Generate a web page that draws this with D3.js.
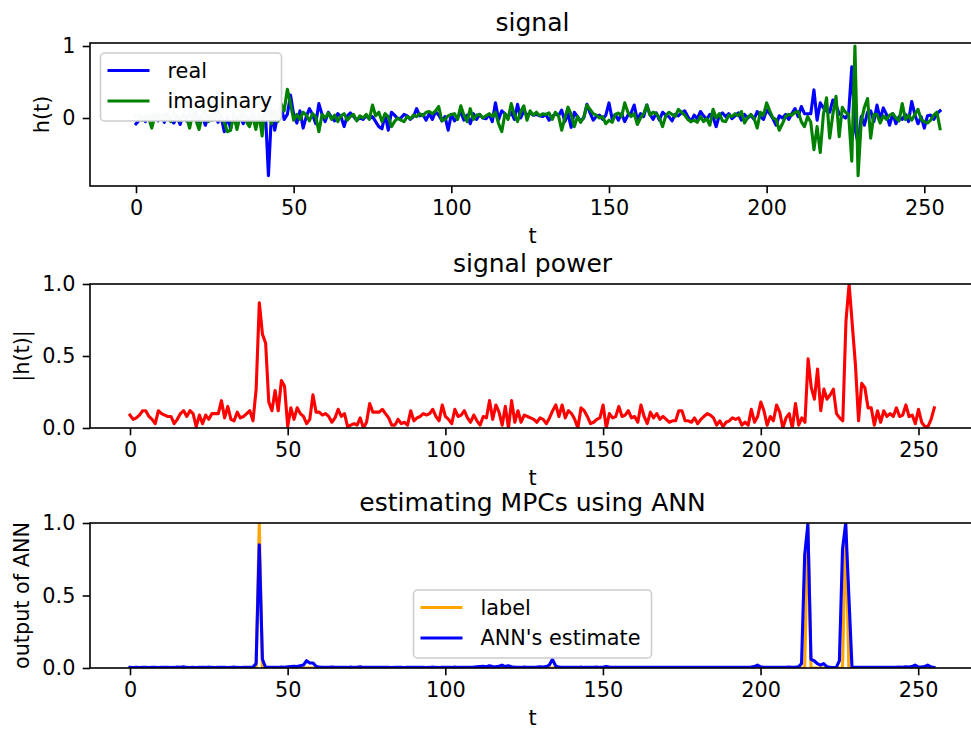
<!DOCTYPE html>
<html>
<head>
<meta charset="utf-8">
<script src="https://cdn.jsdelivr.net/npm/d3@7"></script>
<style>
  body { margin: 0; background: #fff; }
  svg { display: block; font-family: "DejaVu Sans", sans-serif; }
</style>
</head>
<body>
<svg width="971" height="729"></svg>
<script>
// t = 0..255
const t = d3.range(256)

const realPart = [
  -0.08, -0.03, 0.02, -0.05, 0.04, -0.02, 0.05, -0.04, 0.03, -0.06,
  0.06, -0.03, -0.07, 0.02, -0.09, 0.05, -0.04, 0.06, -0.02, 0.08,
  -0.05, 0.03, -0.10, 0.04, -0.03, 0.07, -0.06, 0.02, -0.19, 0.03,
  -0.15, 0.06, -0.04, 0.05, -0.08, 0.03, -0.05, 0.07, -0.03, 0.02,
  -0.05, 0.12, -0.80, 0.10, -0.17, 0.05, 0.15, -0.02, 0.05, 0.32,
  0.05, -0.07, 0.10, -0.14, 0.02, 0.13, 0.05, -0.08, 0.20, 0.05,
  -0.05, 0.08, 0.01, -0.04, 0.06, 0.02, -0.12, 0.03, 0.07, 0.02,
  -0.03, 0.00, -0.02, 0.03, -0.01, 0.02, -0.05, -0.12, -0.15, 0.05,
  -0.17, 0.08, 0.04, -0.01, 0.00, 0.05, 0.03, -0.02, 0.02, 0.13,
  0.03, 0.05, -0.03, 0.06, -0.02, 0.09, 0.04, -0.04, 0.02, -0.17,
  0.05, -0.04, 0.01, 0.08, -0.03, 0.04, -0.08, 0.06, -0.02, 0.05,
  0.00, -0.01, 0.05, -0.05, 0.21, -0.02, 0.10, 0.06, 0.01, 0.08,
  -0.02, 0.19, 0.00, 0.10, 0.04, 0.07, 0.04, 0.05, 0.03, 0.02,
  0.05, -0.03, 0.02, 0.06, 0.03, 0.11, -0.05, 0.06, -0.13, 0.08,
  0.02, -0.04, 0.00, 0.19, 0.07, -0.03, 0.02, 0.04, -0.02, 0.04,
  0.21, -0.01, 0.05, -0.03, 0.06, -0.05, 0.04, 0.07, 0.18, -0.03,
  0.06, 0.02, 0.18, 0.05, -0.02, 0.07, -0.03, 0.08, 0.04, 0.02,
  -0.04, 0.05, 0.03, 0.07, 0.10, 0.02, -0.05, 0.04, -0.01, 0.09,
  0.03, -0.02, 0.05, 0.01, -0.12, 0.04, 0.07, 0.02, 0.06, -0.01,
  0.03, 0.07, -0.03, 0.05, 0.00, 0.04, -0.02, 0.09, 0.02, -0.02,
  0.11, 0.06, -0.01, -0.10, 0.03, 0.00, 0.05, -0.02, 0.06, 0.13,
  0.02, 0.16, 0.06, 0.06, 0.06, 0.39, -0.03, 0.21, 0.14, 0.10,
  0.08, 0.25, 0.18, 0.06, 0.03, 0.00, 0.06, 0.71, -0.15, -0.35,
  0.02, -0.10, 0.08, 0.10, -0.05, 0.18, -0.02, 0.14, 0.05, -0.10,
  0.06, -0.08, 0.02, -0.02, 0.05, -0.05, 0.23, 0.05, -0.08, 0.02,
  -0.14, 0.03, 0.04, -0.02, 0.06, 0.10
]

const imagPart = [
  0.02, 0.05, -0.03, 0.04, 0.01, -0.14, 0.03, 0.06, -0.02, 0.05,
  0.02, -0.05, 0.07, 0.03, -0.04, 0.05, 0.02, -0.14, 0.06, -0.03,
  -0.16, 0.04, 0.08, -0.05, 0.06, -0.02, 0.09, 0.03, -0.06, -0.19,
  -0.17, 0.05, -0.16, 0.02, 0.07, -0.05, -0.12, 0.03, -0.16, 0.05,
  -0.25, 0.15, 0.08, -0.08, 0.10, -0.05, 0.20, 0.10, 0.40, 0.20,
  -0.03, 0.05, -0.02, 0.08, 0.04, -0.04, 0.06, 0.02, -0.19, 0.05,
  0.00, 0.07, -0.02, 0.04, -0.05, 0.03, 0.06, -0.03, 0.02, 0.05,
  -0.04, 0.03, 0.00, 0.05, -0.02, 0.18, 0.03, 0.08, -0.05, 0.06,
  0.02, -0.12, -0.05, 0.00, -0.03, -0.05, 0.02, -0.01, 0.04, 0.02,
  0.06, 0.03, 0.08, 0.09, 0.06, 0.10, 0.16, -0.04, -0.02, 0.03,
  0.05, 0.06, -0.02, 0.17, 0.04, -0.05, 0.13, -0.02, 0.04, 0.05,
  0.00, 0.03, 0.06, 0.02, 0.08, -0.08, -0.19, 0.06, -0.02, 0.20,
  0.05, -0.05, 0.09, 0.17, -0.03, 0.10, 0.04, 0.08, 0.03, 0.06,
  0.05, 0.07, -0.02, 0.08, 0.03, -0.17, 0.00, 0.15, 0.05, -0.12,
  0.02, -0.06, 0.01, 0.18, 0.12, 0.06, 0.04, 0.00, 0.02, -0.08,
  -0.03, -0.06, 0.05, 0.07, 0.02, 0.21, 0.08, 0.02, 0.06, -0.09,
  0.00, 0.06, 0.18, 0.04, 0.08, 0.06, 0.00, -0.12, 0.03, 0.08,
  0.05, 0.02, 0.12, 0.08, 0.04, -0.02, -0.05, -0.03, -0.06, 0.02,
  -0.05, -0.01, -0.10, 0.12, 0.00, 0.06, -0.04, -0.05, 0.04, 0.02,
  0.06, 0.03, 0.09, -0.07, 0.01, 0.05, 0.00, -0.14, 0.08, 0.04,
  0.21, 0.10, 0.00, -0.02, -0.17, -0.08, 0.02, 0.05, 0.04, 0.08,
  0.09, -0.05, -0.12, 0.02, -0.06, -0.44, -0.12, -0.48, 0.05, 0.28,
  -0.28, 0.05, 0.30, -0.26, 0.15, 0.08, 0.05, -0.60, 1.00, -0.80,
  -0.05, 0.15, 0.27, -0.28, 0.05, 0.05, -0.07, 0.03, -0.02, 0.04,
  0.06, 0.00, -0.04, 0.20, -0.02, 0.04, -0.03, 0.05, 0.12, -0.02,
  -0.05, -0.07, -0.03, 0.04, 0.08, -0.15
]

const power = [
  0.09, 0.06, 0.07, 0.09, 0.12, 0.12, 0.08, 0.06, 0.03, 0.12,
  0.10, 0.09, 0.08, 0.08, 0.03, 0.06, 0.10, 0.12, 0.08, 0.12,
  0.10, 0.01, 0.09, 0.03, 0.09, 0.06, 0.10, 0.10, 0.10, 0.19,
  0.07, 0.15, 0.06, 0.05, 0.11, 0.07, 0.08, 0.10, 0.12, 0.05,
  0.27, 0.87, 0.65, 0.59, 0.18, 0.12, 0.26, 0.12, 0.33, 0.29,
  0.01, 0.14, 0.06, 0.14, 0.10, 0.08, 0.03, 0.06, 0.23, 0.11,
  0.11, 0.09, 0.10, 0.08, 0.04, 0.07, 0.13, 0.08, 0.10, 0.01,
  0.02, 0.03, 0.02, 0.07, 0.00, 0.04, 0.17, 0.11, 0.11, 0.11,
  0.13, 0.10, 0.07, 0.02, 0.02, 0.06, 0.03, 0.04, 0.02, 0.12,
  0.05, 0.07, 0.08, 0.10, 0.09, 0.10, 0.13, 0.08, 0.05, 0.16,
  0.08, 0.06, 0.03, 0.13, 0.08, 0.09, 0.12, 0.07, 0.04, 0.09,
  0.05, 0.02, 0.08, 0.07, 0.19, 0.06, 0.16, 0.11, 0.02, 0.15,
  0.00, 0.19, 0.04, 0.12, 0.04, 0.09, 0.08, 0.07, 0.06, 0.04,
  0.07, 0.06, 0.03, 0.07, 0.12, 0.16, 0.08, 0.16, 0.07, 0.12,
  0.10, 0.06, 0.00, 0.14, 0.12, 0.08, 0.03, 0.04, 0.06, 0.07,
  0.16, 0.00, 0.10, 0.07, 0.08, 0.15, 0.08, 0.09, 0.12, 0.07,
  0.08, 0.04, 0.16, 0.08, 0.03, 0.11, 0.07, 0.10, 0.06, 0.08,
  0.06, 0.04, 0.05, 0.05, 0.12, 0.12, 0.05, 0.05, 0.04, 0.07,
  0.03, 0.06, 0.08, 0.10, 0.09, 0.07, 0.02, 0.05, 0.01, 0.04,
  0.05, 0.07, 0.06, 0.07, 0.02, 0.04, 0.02, 0.13, 0.04, 0.08,
  0.18, 0.12, 0.02, 0.08, 0.05, 0.16, 0.11, 0.00, 0.07, 0.10,
  0.00, 0.17, 0.02, 0.07, 0.04, 0.48, 0.28, 0.20, 0.41, 0.12,
  0.27, 0.20, 0.23, 0.27, 0.10, 0.07, 0.05, 0.74, 1.00, 0.72,
  0.44, 0.05, 0.31, 0.28, 0.14, 0.14, 0.02, 0.12, 0.04, 0.12,
  0.08, 0.10, 0.08, 0.14, 0.08, 0.09, 0.16, 0.08, 0.09, 0.03,
  0.13, 0.04, 0.01, 0.01, 0.06, 0.14
]

const label = [
  0,0,0,0,0,0,0,0,0,0,0,0,0,0,0,0,
  0,0,0,0,0,0,0,0,0,0,0,0,0,0,0,0,
  0,0,0,0,0,0,0,0,0,1,0,0,0,0,0,0,
  0,0,0,0,0,0,0,0,0,0,0,0,0,0,0,0,
  0,0,0,0,0,0,0,0,0,0,0,0,0,0,0,0,
  0,0,0,0,0,0,0,0,0,0,0,0,0,0,0,0,
  0,0,0,0,0,0,0,0,0,0,0,0,0,0,0,0,
  0,0,0,0,0,0,0,0,0,0,0,0,0,0,0,0,
  0,0,0,0,0,0,0,0,0,0,0,0,0,0,0,0,
  0,0,0,0,0,0,0,0,0,0,0,0,0,0,0,0,
  0,0,0,0,0,0,0,0,0,0,0,0,0,0,0,0,
  0,0,0,0,0,0,0,0,0,0,0,0,0,0,0,0,
  0,0,0,0,0,0,0,0,0,0,0,0,0,0,0,0,
  0,0,0,0,0,0,0,1,0,0,0,0,0,0,0,0,
  0,0,0,1,0,0,0,0,0,0,0,0,0,0,0,0,
  0,0,0,0,0,0,0,0,0,0,0,0,0,0,0,0
]

const estimate = [
  0.004, 0.003, 0.004, 0.003, 0.005, 0.004, 0.003, 0.004, 0.004, 0.003,
  0.004, 0.005, 0.004, 0.003, 0.004, 0.006, 0.005, 0.008, 0.004, 0.003,
  0.004, 0.003, 0.004, 0.005, 0.004, 0.006, 0.004, 0.003, 0.004, 0.005,
  0.004, 0.003, 0.004, 0.006, 0.004, 0.003, 0.004, 0.004, 0.005, 0.006,
  0.03, 0.85, 0.06, 0.005, 0.004, 0.004, 0.005, 0.004, 0.006, 0.005,
  0.008, 0.010, 0.012, 0.010, 0.015, 0.020, 0.050, 0.035, 0.035, 0.012,
  0.006, 0.005, 0.004, 0.005, 0.006, 0.005, 0.004, 0.004, 0.005, 0.004,
  0.006, 0.004, 0.005, 0.008, 0.004, 0.004, 0.005, 0.004, 0.005, 0.004,
  0.004, 0.005, 0.004, 0.003, 0.004, 0.005, 0.004, 0.003, 0.004, 0.005,
  0.004, 0.004, 0.005, 0.004, 0.003, 0.004, 0.006, 0.004, 0.003, 0.004,
  0.005, 0.004, 0.004, 0.006, 0.004, 0.005, 0.004, 0.004, 0.005, 0.006,
  0.008, 0.010, 0.012, 0.008, 0.015, 0.010, 0.008, 0.012, 0.020, 0.010,
  0.015, 0.008, 0.006, 0.005, 0.004, 0.006, 0.005, 0.004, 0.005, 0.006,
  0.008, 0.006, 0.010, 0.020, 0.060, 0.015, 0.006, 0.005, 0.004, 0.005,
  0.004, 0.005, 0.004, 0.006, 0.004, 0.005, 0.004, 0.005, 0.006, 0.004,
  0.005, 0.010, 0.006, 0.005, 0.004, 0.005, 0.004, 0.004, 0.005, 0.004,
  0.004, 0.005, 0.004, 0.004, 0.005, 0.004, 0.004, 0.005, 0.004, 0.004,
  0.004, 0.005, 0.004, 0.005, 0.004, 0.004, 0.005, 0.004, 0.004, 0.005,
  0.004, 0.004, 0.005, 0.004, 0.005, 0.004, 0.004, 0.005, 0.004, 0.004,
  0.005, 0.004, 0.004, 0.005, 0.004, 0.004, 0.005, 0.006, 0.010, 0.020,
  0.008, 0.005, 0.004, 0.005, 0.004, 0.004, 0.005, 0.004, 0.005, 0.006,
  0.005, 0.006, 0.008, 0.030, 0.78, 0.99, 0.060, 0.050, 0.030, 0.020,
  0.030, 0.010, 0.004, 0.003, 0.003, 0.050, 0.82, 1.00, 0.50, 0.004,
  0.004, 0.005, 0.004, 0.005, 0.004, 0.005, 0.004, 0.004, 0.005, 0.004,
  0.004, 0.005, 0.004, 0.005, 0.006, 0.005, 0.008, 0.006, 0.010, 0.020,
  0.008, 0.006, 0.010, 0.020, 0.008, 0.004
]

const xTicks = [0, 50, 100, 150, 200, 250]

const svg = d3.select('svg')
svg.append('rect').attr('width', 971).attr('height', 729).attr('fill', '#fff')

const left = 90
const right = 975   // right spine sits just outside the picture
const midX = (left + right) / 2
const fs = 20.8

const panels = [
  {
    id: 'p1', top: 43, bottom: 186, x0: 136, x250: 924.3, y0: 118, y1: 46,
    yTicks: [0, 1], yFormat: d3.format('d'),
    title: 'signal', ylabel: 'h(t)', ylabelX: 42,
    series: [{ values: realPart, color: '#0000ff' }, { values: imagPart, color: '#008000' }]
  },
  {
    id: 'p2', top: 284, bottom: 428, x0: 130, x250: 918.5, y0: 428, y1: 284,
    yTicks: [0, 0.5, 1], yFormat: d3.format('.1f'),
    title: 'signal power', ylabel: '|h(t)|', ylabelX: 22,
    series: [{ values: power, color: '#ff0000' }]
  },
  {
    id: 'p3', top: 523, bottom: 668, x0: 130, x250: 918.2, y0: 668, y1: 523,
    yTicks: [0, 0.5, 1], yFormat: d3.format('.1f'),
    title: 'estimating MPCs using ANN', ylabel: 'output of ANN', ylabelX: 22,
    series: [{ values: label, color: '#ffa500' }, { values: estimate, color: '#0000ff' }]
  }
]

const defs = svg.append('defs')

panels.forEach(p => {
  const x_scale = d3.scaleLinear().domain([0, 250]).range([p.x0, p.x250])
  const y_scale = d3.scaleLinear().domain([0, 1]).range([p.y0, p.y1])

  defs.append('clipPath').attr('id', 'clip-' + p.id)
    .append('rect')
    .attr('x', left).attr('y', p.top)
    .attr('width', right - left).attr('height', p.bottom - p.top)

  const g = svg.append('g')

  const line = values => d3.line()
    .x(i => x_scale(t[i]))
    .y(i => y_scale(values[i]))(t)

  g.append('g').attr('clip-path', `url(#clip-${p.id})`)
    .selectAll('path').data(p.series)
    .enter().append('path')
    .attr('d', s => line(s.values))
    .attr('fill', 'none')
    .attr('stroke', s => s.color)
    .attr('stroke-width', 3.1)
    .attr('stroke-linejoin', 'round')
    .attr('stroke-linecap', 'square')

  // spines
  g.append('rect')
    .attr('x', left).attr('y', p.top)
    .attr('width', right - left).attr('height', p.bottom - p.top)
    .attr('fill', 'none').attr('stroke', '#000').attr('stroke-width', 1.6)

  const xAxis = g.append('g')
    .attr('transform', `translate(0,${p.bottom})`)
    .call(d3.axisBottom(x_scale).tickValues(xTicks).tickSize(7.3).tickPadding(7.3))
  const yAxis = g.append('g')
    .attr('transform', `translate(${left},0)`)
    .call(d3.axisLeft(y_scale).tickValues(p.yTicks).tickFormat(p.yFormat).tickSize(7.3).tickPadding(7.3))

  ;[xAxis, yAxis].forEach(a => {
    a.select('.domain').remove()
    a.selectAll('line').attr('stroke', '#000').attr('stroke-width', 1.6)
    a.selectAll('text').attr('fill', '#000')
      .style('font-size', fs + 'px').style('font-family', '"DejaVu Sans", sans-serif')
  })

  svg.append('text')
    .attr('x', midX).attr('y', p.top - 12.5)
    .attr('text-anchor', 'middle')
    .style('font-size', '25px')
    .text(p.title)

  svg.append('text')
    .attr('x', midX).attr('y', p.bottom + 57)
    .attr('text-anchor', 'middle')
    .style('font-size', fs + 'px')
    .text('t')

  svg.append('text')
    .attr('transform', `translate(${p.ylabelX},${(p.top + p.bottom) / 2}) rotate(-90)`)
    .attr('text-anchor', 'middle')
    .attr('dy', '0.35em')
    .style('font-size', fs + 'px')
    .text(p.ylabel)
})

// legends
const legend = (box, items) => {
  const lg = svg.append('g')
  lg.append('rect')
    .attr('x', box.x).attr('y', box.y)
    .attr('width', box.w).attr('height', box.h)
    .attr('rx', 4)
    .attr('fill', '#fff').attr('fill-opacity', 0.97)
    .attr('stroke', '#cccccc').attr('stroke-width', 1.5)
  items.forEach((it, i) => {
    const yy = box.y + 17.5 + i * 30.5
    lg.append('line')
      .attr('x1', box.x + 7).attr('x2', box.x + 49)
      .attr('y1', yy).attr('y2', yy)
      .attr('stroke', it.color).attr('stroke-width', 3.1)
    lg.append('text')
      .attr('x', box.x + 67).attr('y', yy)
      .attr('dy', '0.35em')
      .style('font-size', fs + 'px')
      .text(it.name)
  })
}

legend({ x: 100.5, y: 53, w: 181, h: 68 }, [
  { name: 'real', color: '#0000ff' },
  { name: 'imaginary', color: '#008000' }
])
legend({ x: 413.5, y: 590, w: 238, h: 68 }, [
  { name: 'label', color: '#ffa500' },
  { name: "ANN's estimate", color: '#0000ff' }
])
</script>
</body>
</html>
